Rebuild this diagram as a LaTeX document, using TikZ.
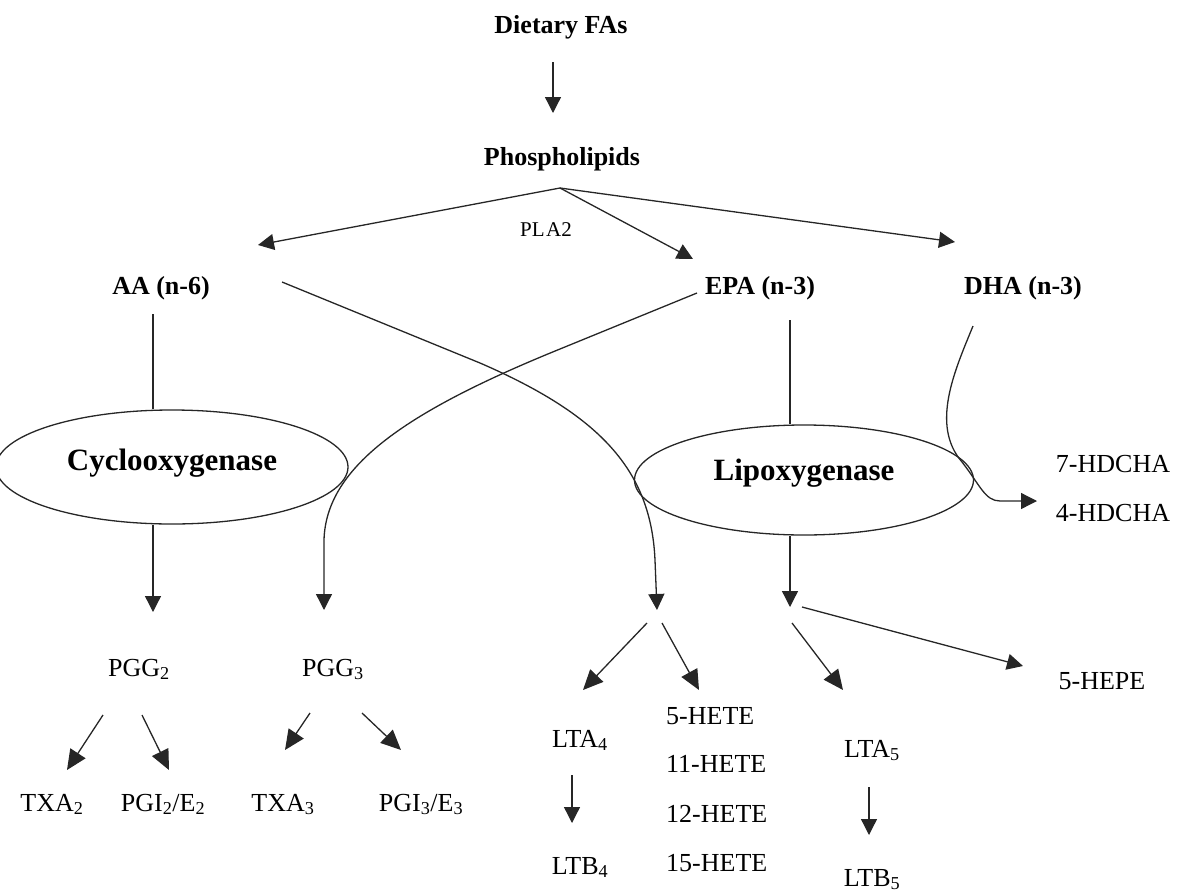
\documentclass[tikz,border=0pt]{standalone}
\usepackage{fontspec}
\setmainfont{Liberation Serif}
\usetikzlibrary{arrows.meta,shapes.geometric}
\tikzset{
  lbl/.style={font=\fontsize{26}{30}\selectfont\bfseries, inner sep=0pt, anchor=base},
  txt/.style={font=\fontsize{26}{30}\selectfont, inner sep=0pt, anchor=base},
  htxt/.style={font=\fontsize{26}{30}\selectfont, inner sep=0pt, anchor=base west},
  enzt/.style={font=\fontsize{31}{36}\selectfont\bfseries, inner sep=0pt, anchor=base},
  enz/.style={ellipse, draw=black!85, line width=1.3pt, inner sep=0pt},
  con/.style={line width=1.3pt, draw=black!85},
  arr/.style={con, -{Triangle[length=16pt,width=16pt]}},
  barr/.style={con, -{Triangle[length=20pt,width=18pt]}},
}
\begin{document}
\begin{tikzpicture}[x=1pt,y=-1pt]
\useasboundingbox (0,0) rectangle (1179,892);
% top
\node[lbl] (diet) at (561,33) {Dietary FAs};
\coordinate (d1) at (553,62);
\coordinate (d2) at (553,113);
\draw[arr] (d1) -- (d2);
\node[lbl] (phos) at (562,165) {Phospholipids};
\coordinate (apex) at (560,188);
\node[font=\fontsize{21}{24}\selectfont, inner sep=0pt, anchor=base] (pla) at (546,236) {PL\kern1.5pt A2};
\coordinate (aatip) at (258,245);
\coordinate (epatip) at (693,259);
\coordinate (dhatip) at (955,242);
\draw[arr] (apex) -- (aatip);
\draw[arr] (apex) -- (epatip);
\draw[arr] (apex) -- (dhatip);
% acids
\node[lbl] (aa) at (161,294) {AA (n-6)};
\node[lbl] (epa) at (760,294) {EPA (n-3)};
\node[lbl] (dha) at (1023,294) {DHA (n-3)};
% enzymes
\node[enz, minimum width=352pt, minimum height=114pt] (cox) at (172,467) {};
\node[enzt] (coxt) at (172,470) {Cyclooxygenase};
\node[enz, minimum width=339pt, minimum height=110pt] (lox) at (804,480) {};
\node[enzt] (loxt) at (804,480) {Lipoxygenase};
\coordinate (aab) at (153,314);
\draw[con] (aab) -- (aab |- cox.north);
\coordinate (epab) at (790,320);
\draw[con] (epab) -- (epab |- lox.north);
% down arrows from enzymes
\coordinate (coxtip) at (153,612);
\draw[arr] (cox.south -| coxtip) -- (coxtip);
\coordinate (loxtip) at (790,607);
\draw[arr] (lox.south -| loxtip) -- (loxtip);
% crossing curves
\coordinate (aas) at (282,282);
\coordinate (aaxtip) at (657,610);
\draw[arr] (aas) -- (480,363) .. controls (600,415) and (651,470) .. (655,560) -- (aaxtip);
\coordinate (epas) at (697,293);
\coordinate (epaxtip) at (324,610);
\draw[arr] (epas) -- (560,349) .. controls (410,410) and (326,465) .. (324,540) -- (epaxtip);
% DHA curve
\coordinate (dhas) at (973,326);
\coordinate (dhaxtip) at (1037,501);
\draw[arr] (dhas) .. controls (955,370) and (930,425) .. (962,462) .. controls (980,485) and (985,501) .. (1000,501) -- (dhaxtip);
\node[txt] (h7) at (1113,472) {7-HDCHA};
\node[txt] (h4) at (1113,521) {4-HDCHA};
% 5-HEPE
\coordinate (hepes) at (802,607);
\coordinate (hepetip) at (1023,666);
\draw[arr] (hepes) -- (hepetip);
\node[txt] (hepe) at (1102,689) {5-HEPE};
% PGG row
\node[txt] (pgg2) at (139,676) {PGG\textsubscript{2}};
\node[txt] (pgg3) at (333,676) {PGG\textsubscript{3}};
\node[txt] (txa2) at (52,811) {TXA\textsubscript{2}};
\node[txt] (pgi2) at (163,811) {PGI\textsubscript{2}/E\textsubscript{2}};
\node[txt] (txa3) at (283,811) {TXA\textsubscript{3}};
\node[txt] (pgi3) at (421,811) {PGI\textsubscript{3}/E\textsubscript{3}};
\coordinate (p2a) at (103,715); \coordinate (p2at) at (67,770);
\coordinate (p2b) at (142,715); \coordinate (p2bt) at (169,770);
\coordinate (p3a) at (310,713); \coordinate (p3at) at (285,750);
\coordinate (p3b) at (362,713); \coordinate (p3bt) at (401,750);
\draw[barr] (p2a) -- (p2at);
\draw[barr] (p2b) -- (p2bt);
\draw[barr] (p3a) -- (p3at);
\draw[barr] (p3b) -- (p3bt);
% LT branches
\coordinate (l1) at (647,623); \coordinate (l1t) at (583,690);
\coordinate (l2) at (662,623); \coordinate (l2t) at (699,690);
\coordinate (l3) at (792,623); \coordinate (l3t) at (843,690);
\draw[barr] (l1) -- (l1t);
\draw[barr] (l2) -- (l2t);
\draw[barr] (l3) -- (l3t);
\node[txt] (lta4) at (580,747) {LTA\textsubscript{4}};
\node[txt] (ltb4) at (580,874) {LTB\textsubscript{4}};
\node[txt] (lta5) at (872,757) {LTA\textsubscript{5}};
\node[txt] (ltb5) at (872,886) {LTB\textsubscript{5}};
\coordinate (b4s) at (572,775); \coordinate (b4t) at (572,823);
\coordinate (b5s) at (869,787); \coordinate (b5t) at (869,835);
\draw[arr] (b4s) -- (b4t);
\draw[arr] (b5s) -- (b5t);
\node[htxt] (he5) at (666,724) {5-HETE};
\node[htxt] (he11) at (666,772) {11-HETE};
\node[htxt] (he12) at (666,822) {12-HETE};
\node[htxt] (he15) at (666,871) {15-HETE};
\end{tikzpicture}
\end{document}
